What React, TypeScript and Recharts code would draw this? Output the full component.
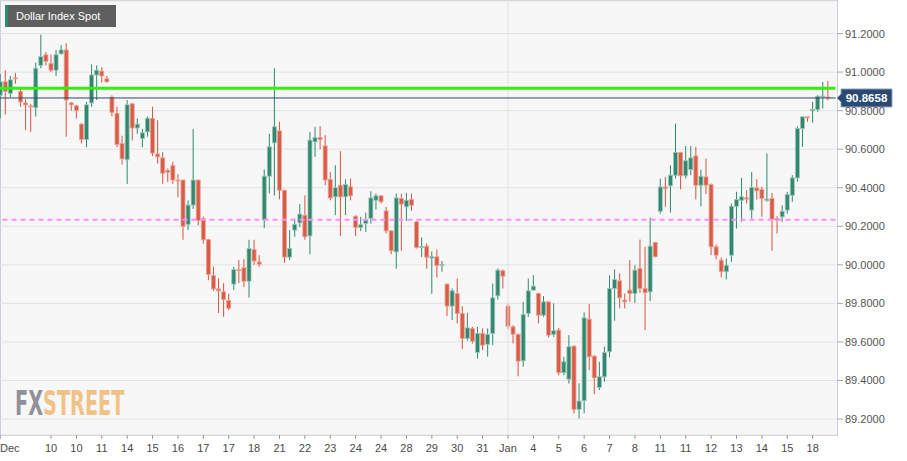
import React from 'react';
import { ComposedChart, Bar, XAxis, YAxis, CartesianGrid, ReferenceLine } from 'recharts';

// 4h candles, Dollar Index Spot, early Dec -> Jan 18
const openP = [
  90.88, 90.95, 90.89, 90.97, 90.90, 90.84, 90.825, 90.815, 91.035, 91.09,
  91.045, 91.01, 91.095, 91.115, 90.84, 90.825, 90.73, 90.65, 90.84, 90.985,
  91.005, 90.965, 90.87, 90.785, 90.63, 90.545, 90.835, 90.71, 90.655, 90.69,
  90.76, 90.575, 90.555, 90.49, 90.515, 90.44, 90.44, 90.21, 90.31, 90.44,
  90.24, 90.13, 89.945, 89.875, 89.86, 89.815, 89.90, 89.975, 89.985, 89.915,
  90.08, 90.015, 90.232, 90.46, 90.633, 90.695, 90.387, 90.04, 90.18, 90.218,
  90.257, 90.15, 90.638, 90.66, 90.617, 90.443, 90.353, 90.413, 90.353, 90.405,
  90.252, 90.194, 90.214, 90.24, 90.335, 90.358, 90.28, 90.176, 90.067, 90.344,
  90.301, 90.339, 90.223, 90.091, 90.097, 90.035, 90.042, 89.998, 89.9, 89.786,
  89.851, 89.748, 89.618, 89.67, 89.545, 89.644, 89.588, 89.644, 89.839, 89.969,
  89.786, 89.678, 89.639, 89.502, 89.748, 89.869, 89.851, 89.739, 89.808, 89.639,
  89.661, 89.44, 89.407, 89.578, 89.25, 89.295, 89.718, 89.526, 89.364, 89.419,
  89.549, 89.877, 89.917, 89.817, 89.869, 89.851, 89.981, 89.877, 89.86, 90.116,
  90.278, 90.404, 90.41, 90.465, 90.583, 90.462, 90.494, 90.565, 90.413, 90.456,
  90.417, 90.093, 90.024, 89.964, 90.05, 90.304, 90.335, 90.348, 90.284, 90.399,
  90.391, 90.334, 90.344, 90.24, 90.249, 90.284, 90.361, 90.451, 90.707, 90.768,
  90.799, 90.806, 90.871, 90.871,
];
const highP = [
  90.99, 91.01, 90.98, 90.995, 90.92, 90.86, 90.835, 91.05, 91.195, 91.105,
  91.09, 91.115, 91.14, 91.15, 90.845, 90.83, 90.735, 90.845, 91.04, 91.035,
  91.025, 90.98, 90.88, 90.82, 90.67, 90.855, 90.84, 90.76, 90.705, 90.77,
  90.82, 90.75, 90.585, 90.50, 90.535, 90.47, 90.44, 90.335, 90.705, 90.44,
  90.25, 90.135, 89.99, 89.93, 89.905, 89.85, 89.99, 90.025, 90.03, 90.13,
  90.13, 90.05, 90.495, 90.68, 91.02, 90.742, 90.39, 90.18, 90.24, 90.315,
  90.36, 90.69, 90.716, 90.72, 90.673, 90.482, 90.517, 90.59, 90.444, 90.448,
  90.257, 90.249, 90.271, 90.382, 90.37, 90.361, 90.301, 90.18, 90.37, 90.37,
  90.373, 90.37, 90.227, 90.142, 90.11, 90.07, 90.08, 90.02, 89.903, 89.877,
  89.929, 89.786, 89.751, 89.678, 89.678, 89.67, 89.67, 89.903, 89.981, 89.976,
  89.799, 89.687, 89.644, 89.808, 89.929, 89.946, 89.855, 89.838, 89.808, 89.8,
  89.673, 89.523, 89.635, 89.583, 89.385, 89.753, 89.796, 89.531, 89.497, 89.575,
  89.946, 89.976, 89.955, 89.851, 90.024, 89.998, 90.131, 90.093, 90.245, 90.119,
  90.448, 90.456, 90.517, 90.733, 90.586, 90.617, 90.617, 90.612, 90.494, 90.551,
  90.422, 90.105, 90.038, 90.033, 90.318, 90.379, 90.451, 90.387, 90.482, 90.444,
  90.405, 90.578, 90.373, 90.252, 90.309, 90.379, 90.465, 90.719, 90.768, 90.768,
  90.846, 90.88, 90.949, 90.954,
];
const lowP = [
  90.76, 90.78, 90.87, 90.94, 90.82, 90.70, 90.69, 90.77, 91.02, 91.035,
  91.0, 90.98, 91.09, 90.665, 90.80, 90.76, 90.63, 90.61, 90.82, 90.855,
  90.945, 90.945, 90.77, 90.61, 90.52, 90.42, 90.645, 90.68, 90.61, 90.665,
  90.565, 90.525, 90.42, 90.43, 90.42, 90.35, 90.13, 90.18, 90.29, 90.205,
  90.11, 89.92, 89.865, 89.75, 89.73, 89.765, 89.87, 89.905, 89.885, 89.83,
  90.0, 89.99, 90.19, 90.37, 90.36, 90.34, 90.01, 90.024, 90.145, 90.197,
  90.13, 90.055, 90.56, 90.6, 90.413, 90.335, 90.258, 90.15, 90.258, 90.335,
  90.15, 90.176, 90.171, 90.214, 90.287, 90.318, 90.163, 90.055, 89.98, 90.073,
  90.228, 90.28, 90.085, 90.04, 89.98, 89.85, 89.934, 89.964, 89.734, 89.713,
  89.696, 89.563, 89.606, 89.592, 89.514, 89.557, 89.523, 89.583, 89.82, 89.877,
  89.666, 89.592, 89.422, 89.471, 89.73, 89.869, 89.696, 89.73, 89.623, 89.626,
  89.427, 89.427, 89.384, 89.229, 89.203, 89.229, 89.454, 89.329, 89.35, 89.393,
  89.519, 89.709, 89.774, 89.774, 89.808, 89.803, 89.855, 89.661, 89.812, 90.038,
  90.266, 90.301, 90.271, 90.448, 90.391, 90.448, 90.465, 90.339, 90.304, 90.367,
  90.05, 90.028, 89.934, 89.924, 90.015, 90.188, 90.223, 90.318, 90.24, 90.339,
  90.249, 90.327, 90.073, 90.163, 90.223, 90.266, 90.327, 90.431, 90.612, 90.742,
  90.737, 90.794, 90.811, 90.854,
];
const closeP = [
  90.95, 90.90, 90.96, 90.965, 90.845, 90.83, 90.82, 91.02, 91.08, 91.055,
  91.01, 91.09, 91.115, 90.855, 90.83, 90.80, 90.65, 90.83, 90.985, 91.01,
  90.98, 90.95, 90.79, 90.625, 90.55, 90.83, 90.71, 90.73, 90.685, 90.76,
  90.58, 90.56, 90.475, 90.48, 90.44, 90.435, 90.20, 90.31, 90.44, 90.23,
  90.13, 89.95, 89.875, 89.865, 89.82, 89.775, 89.975, 89.97, 89.915, 90.085,
  90.02, 90.003, 90.46, 90.612, 90.716, 90.387, 90.04, 90.085, 90.21, 90.263,
  90.145, 90.647, 90.66, 90.65, 90.44, 90.347, 90.4, 90.353, 90.417, 90.358,
  90.194, 90.208, 90.235, 90.347, 90.358, 90.327, 90.176, 90.073, 90.347, 90.315,
  90.335, 90.309, 90.09, 90.095, 90.04, 90.042, 89.997, 90.003, 89.786, 89.865,
  89.748, 89.618, 89.673, 89.604, 89.644, 89.583, 89.639, 89.829, 89.972, 89.941,
  89.682, 89.64, 89.5, 89.742, 89.865, 89.889, 89.739, 89.808, 89.635, 89.658,
  89.44, 89.497, 89.575, 89.25, 89.293, 89.725, 89.523, 89.414, 89.419, 89.545,
  89.877, 89.924, 89.829, 89.808, 89.851, 89.972, 89.877, 89.855, 90.097, 90.042,
  90.404, 90.395, 90.465, 90.583, 90.462, 90.54, 90.555, 90.413, 90.46, 90.413,
  90.093, 90.05, 89.964, 89.998, 90.304, 90.339, 90.353, 90.341, 90.401, 90.384,
  90.344, 90.341, 90.235, 90.232, 90.278, 90.365, 90.451, 90.707, 90.768, 90.764,
  90.806, 90.875, 90.876, 90.8658,
];

const tickIdx = [0, 10, 15, 20, 25, 30, 35, 40, 45, 50, 55, 60, 65, 70, 75, 80,
  85, 90, 95, 100, 105, 110, 115, 120, 125, 130, 135, 140, 145, 150, 155, 160];
const tickText = ['Dec', '10', '10', '11', '14', '15', '16', '17', '17', '18', '21', '22',
  '23', '24', '24', '28', '29', '30', '31', 'Jan', '4', '5', '6', '7', '8', '11',
  '11', '12', '13', '14', '15', '18'];
const yTicks = [89.2, 89.4, 89.6, 89.8, 90.0, 90.2, 90.4, 90.6, 90.8, 91.0, 91.2];

const lastPrice = 90.8658;
const resistance = 90.916;
const support = 90.234;
const janIdx = 100;

const FONT = '"Liberation Sans", Arial, sans-serif';
const FRAME_R = 837;
const FRAME_B = 435;

const rows: any[] = openP.map((o, i) => ({ i, o, h: highP[i], l: lowP[i], c: closeP[i] }));
rows.push({ i: openP.length }); // spare slot at the right edge

const Candle = (props: any) => {
  const { x, y, width, height, payload } = props;
  if (!payload || payload.h == null) return null;
  const top = Math.min(y, y + height);
  const span = Math.abs(height);
  const k = span / (payload.h - payload.l || 1);
  const py = (v: number) => top + (payload.h - v) * k;
  const cx = x + width / 2;
  const up = payload.c >= payload.o;
  const bTop = py(Math.max(payload.o, payload.c));
  const bh = Math.max(py(Math.min(payload.o, payload.c)) - bTop, 1);
  return (
    <g>
      <line x1={cx} x2={cx} y1={top} y2={top + span} stroke={up ? '#2c8a6c' : '#d6533f'} strokeWidth={1} />
      <rect x={cx - 2} y={bTop} width={4} height={bh}
        fill={up ? '#33876f' : '#d85c48'} stroke={up ? '#98c7b8' : '#eda393'} strokeWidth={0.8} />
    </g>
  );
};

const XTick = (props: any) => {
  const { x, payload } = props;
  const n = tickIdx.indexOf(payload.value);
  if (n < 0) return null;
  const first = n === 0;
  return (
    <g>
      <line x1={x} x2={x} y1={FRAME_B} y2={FRAME_B + 4} stroke="#9a9a9a" />
      <text x={first ? 0 : x} y={FRAME_B + 17} textAnchor={first ? 'start' : 'middle'}
        fontSize={11} fontFamily={FONT} fill="#4a4a4a">{tickText[n]}</text>
    </g>
  );
};

const YTick = (props: any) => {
  const { y, payload } = props;
  return (
    <g>
      <line x1={FRAME_R} x2={FRAME_R + 6} y1={y} y2={y} stroke="#a8a8a8" />
      <text x={FRAME_R + 8} y={y + 4} fontSize={11} fontFamily={FONT} fill="#555">
        {Number(payload.value).toFixed(4)}
      </text>
    </g>
  );
};

const PriceTag = (props: any) => {
  const vb = props.viewBox || {};
  const xr = FRAME_R;
  const yy = vb.y;
  const d = `M${xr} ${yy} L${xr + 4} ${yy - 4} L${xr + 4} ${yy - 9} L${xr + 55} ${yy - 9} L${xr + 55} ${yy + 9} L${xr + 4} ${yy + 9} L${xr + 4} ${yy + 4} Z`;
  return (
    <g>
      <path d={d} fill="#2b4a72" stroke="#8fa3c0" strokeWidth={1} />
      <text x={xr + 29.5} y={yy + 4.5} textAnchor="middle" fontSize={11.5} fontWeight="bold"
        fontFamily={FONT} fill="#fff">{lastPrice.toFixed(4)}</text>
    </g>
  );
};

export default function App() {
  return (
    <div style={{ position: 'relative', width: 907, height: 461, background: '#fff', overflow: 'hidden' }}>
      <style>{'body{margin:0}'}</style>
      <div style={{
        position: 'absolute', left: 0, top: 0, width: FRAME_R + 1, height: FRAME_B + 1,
        boxSizing: 'border-box', border: '1px solid #c9cddc', background: '#f7f7f7'
      }} />
      <svg width={150} height={60} style={{ position: 'absolute', left: 0, top: 370 }}>
        {/* watermark squeezed horizontally to look condensed */}
        <text transform="translate(15 45) scale(0.63 1)" x={0} y={0} fontSize={34} fontWeight="bold"
          fontFamily='"DejaVu Sans Condensed", "DejaVu Sans", sans-serif'>
          <tspan fill="#8f9199">FX</tspan><tspan fill="#f1c286">STREET</tspan>
        </text>
      </svg>
      <div style={{ position: 'absolute', left: 0, top: 0 }}>
        <ComposedChart width={907} height={461} data={rows}
          margin={{ top: 1, right: 1.5, left: -2.3, bottom: 0 }}>
          <CartesianGrid vertical={false} stroke="#e2e2e2" />
          <ReferenceLine x={janIdx} stroke="#e2e2e2" />
          <XAxis dataKey="i" type="category" ticks={tickIdx} interval={0} height={26}
            axisLine={false} tickLine={false} tick={<XTick />} />
          <YAxis orientation="right" type="number" domain={[89.117, 91.369]} ticks={yTicks}
            allowDataOverflow width={70} axisLine={false} tickLine={false} tick={<YTick />} />
          <Bar dataKey={(d: any) => (d.h == null ? null : [d.l, d.h])} shape={(p: any) => <Candle {...p} />}
            isAnimationActive={false} />
          <ReferenceLine y={support} stroke="#ff8dff" strokeWidth={2} strokeDasharray="5 4" />
          <ReferenceLine y={resistance} stroke="#33f00c" strokeWidth={3} />
          <ReferenceLine y={lastPrice} stroke="#2b4670" strokeWidth={1} label={<PriceTag />} />
        </ComposedChart>
      </div>
      <div style={{
        position: 'absolute', left: 5, top: 5, width: 111, height: 22, boxSizing: 'border-box',
        background: '#5f5f5f', borderLeft: '3px solid #2f8a6f', paddingLeft: 8,
        color: '#fff', fontFamily: FONT, fontSize: 11, lineHeight: '22px', whiteSpace: 'nowrap'
      }}>Dollar Index Spot</div>
    </div>
  );
}
